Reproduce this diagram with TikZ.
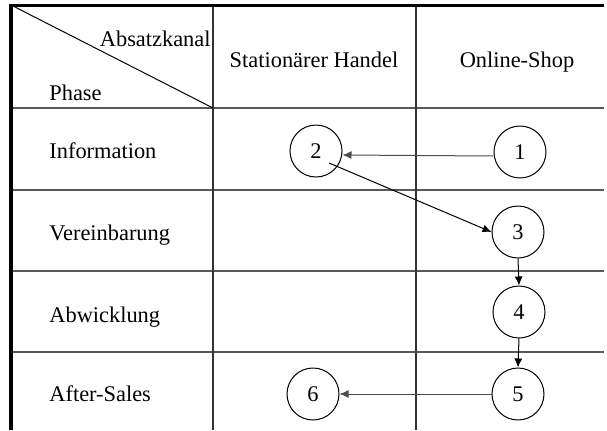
\documentclass[tikz,border=0pt]{standalone}
\usepackage{fontspec}
\setmainfont{Liberation Serif}
\usetikzlibrary{arrows.meta}

\begin{document}
\begin{tikzpicture}[x=0.5pt,y=-0.5pt,
  every node/.style={font=\fontsize{11.2}{13.4}\selectfont, inner sep=0pt},
  stage/.style={draw, circle, minimum size=26pt, line width=0.5pt},
  flow/.style={-{Latex[length=4.5pt,width=4pt]}, line width=0.5pt},
  rowline/.style={draw=black!65, line width=0.9pt},
  colline/.style={draw=black!80, line width=0.8pt}]
\useasboundingbox (0,0) rectangle (607,430);

% grid
\foreach \y in {108,190,271,352}
  \draw[rowline] (11,\y) -- (604,\y);
\foreach \x in {213,416}
  \draw[colline] (\x,5) -- (\x,430);
\draw[line width=1.5pt] (11,430) -- (11,5) -- (604,5);
\draw[line width=0.5pt] (11,5) -- (213,108);

% header
\node[anchor=base east] (kanal) at (211,46) {Absatzkanal};
\node[anchor=base west] (phase) at (49,100) {Phase};
\node[anchor=base] (handel) at (314,67) {Stationärer Handel};
\node[anchor=base] (shop) at (517,67) {Online-Shop};

% phases
\node[anchor=base west] (info) at (49,158) {Information};
\node[anchor=base west] (verein) at (49,240) {Vereinbarung};
\node[anchor=base west] (abw) at (49,322) {Abwicklung};
\node[anchor=base west] (after) at (49,401) {After-Sales};

% steps
\node[stage] (n1) at (520,152) {1};
\node[stage] (n2) at (316,151) {2};
\node[stage] (n3) at (518,232) {3};
\node[stage] (n4) at (519,312) {4};
\node[stage] (n5) at (518,394) {5};
\node[stage] (n6) at (313,394) {6};

\draw[flow, draw=black!70] ([yshift=-2pt]n1.west) -- ([yshift=-2pt]n2.east);
\draw[flow] ([xshift=6.5pt,yshift=-6pt]n2.center) -- (n3.west);
\draw[flow] (n3.south) -- (n4.north);
\draw[flow] (n4.south) -- (n5.north);
\draw[flow, draw=black!70] (n5.west) -- (n6.east);
\end{tikzpicture}
\end{document}
